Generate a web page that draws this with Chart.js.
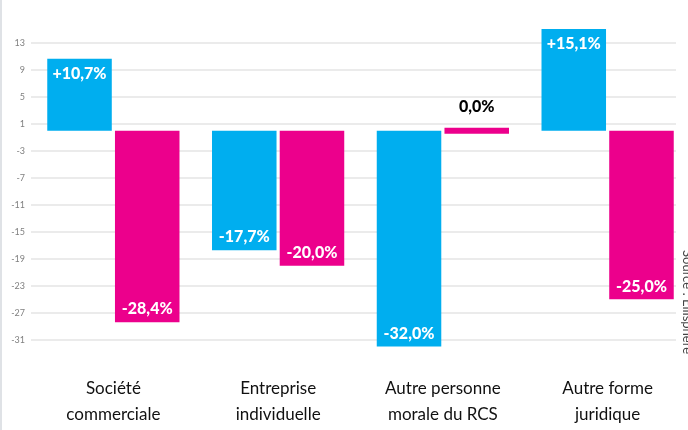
<!DOCTYPE html>
<html>
<head>
<meta charset="utf-8">
<script src="https://cdn.jsdelivr.net/npm/chart.js@4"></script>
<style>
  html, body { margin: 0; padding: 0; background: #fff; }
  #wrap { position: relative; width: 688px; height: 430px; overflow: hidden; }
  #holder { position: absolute; left: 0; top: 0; width: 690px; height: 450px; }
  #edge { position: absolute; left: 0; top: 0; width: 2px; height: 430px; background: #dfe2e6; }
</style>
</head>
<body>
<div id="wrap">
  <div id="holder"><canvas id="chart" width="690" height="450"></canvas></div>
  <div id="edge"></div>
</div>
<script>
// categories (two-line labels) and the two series, in percent
const categories = [
  ['Société', 'commerciale'],
  ['Entreprise', 'individuelle'],
  ['Autre personne', 'morale du RCS'],
  ['Autre forme', 'juridique']
];
const seriesBlue = [10.7, -17.7, -32.0, 15.1];
const seriesPink = [-28.4, -20.0, 0.0, -25.0];
const yTicks = [13, 9, 5, 1, -3, -7, -11, -15, -19, -23, -27, -31];
const sourceText = 'Source : Ellisphere';

const fmt = v => (v > 0 ? '+' : '') + v.toFixed(1).replace('.', ',') + '%';

// value labels inside the bars (white), or above when the value is zero
const valueLabels = {
  id: 'valueLabels',
  afterDatasetsDraw(chart) {
    const ctx = chart.ctx;
    const yScale = chart.scales.y;
    const zero = yScale.getPixelForValue(0);
    ctx.save();
    ctx.font = '900 16px Lato';
    ctx.textAlign = 'center';
    ctx.textBaseline = 'middle';
    chart.data.datasets.forEach((ds, i) => {
      chart.getDatasetMeta(i).data.forEach((bar, j) => {
        const v = ds.data[j];
        let ty;
        if (v > 0) {
          ctx.fillStyle = '#fff';
          ty = bar.y + 15;
        } else if (v < 0) {
          ctx.fillStyle = '#fff';
          ty = bar.y - 13;
        } else {
          ctx.fillStyle = '#000';
          ty = zero - 24;
        }
        ctx.fillText(fmt(v), bar.x, ty);
      });
    });
    ctx.restore();
  }
};

// gridlines stop short of the right edge, source note rotated on the side
const sideNote = {
  id: 'sideNote',
  beforeDatasetsDraw(chart) {
    const { ctx, chartArea } = chart;
    ctx.save();
    ctx.fillStyle = '#fff';
    ctx.fillRect(676, chartArea.top - 2, chart.width - 676, chartArea.bottom - chartArea.top + 4);
    ctx.restore();
  },
  afterDraw(chart) {
    const ctx = chart.ctx;
    ctx.save();
    ctx.translate(683, 250);
    ctx.rotate(Math.PI / 2);
    ctx.font = '13px Lato';
    ctx.fillStyle = '#444';
    ctx.textAlign = 'left';
    ctx.textBaseline = 'alphabetic';
    ctx.fillText(sourceText, 0, 0);
    ctx.restore();
  }
};

new Chart(document.getElementById('chart'), {
  type: 'bar',
  data: {
    labels: categories,
    datasets: [
      {
        label: 'Série 1',
        data: seriesBlue,
        backgroundColor: '#00aeef',
        categoryPercentage: 0.822,
        barPercentage: 0.953,
        minBarLength: 6
      },
      {
        label: 'Série 2',
        data: seriesPink,
        backgroundColor: '#ec008c',
        categoryPercentage: 0.822,
        barPercentage: 0.953,
        minBarLength: 6
      }
    ]
  },
  options: {
    responsive: false,
    animation: false,
    layout: { padding: { top: 23, bottom: 0, left: 0, right: 0 } },
    plugins: {
      legend: { display: false },
      tooltip: { enabled: false }
    },
    scales: {
      x: {
        grid: { display: false, drawTicks: false },
        border: { display: false },
        ticks: {
          padding: 22,
          color: '#111',
          font: { family: 'Lato', size: 17, lineHeight: 1.55 }
        }
      },
      y: {
        min: -33,
        max: 16,
        afterBuildTicks: s => { s.ticks = yTicks.map(v => ({ value: v })); },
        afterFit: s => { s.width = 31; },
        border: { display: false },
        grid: { color: '#ebebeb', lineWidth: 2, drawTicks: false },
        ticks: {
          padding: 6,
          color: '#808080',
          font: { family: 'Lato', size: 9 },
          callback: v => String(v)
        }
      }
    }
  },
  plugins: [valueLabels, sideNote]
});
</script>
</body>
</html>
